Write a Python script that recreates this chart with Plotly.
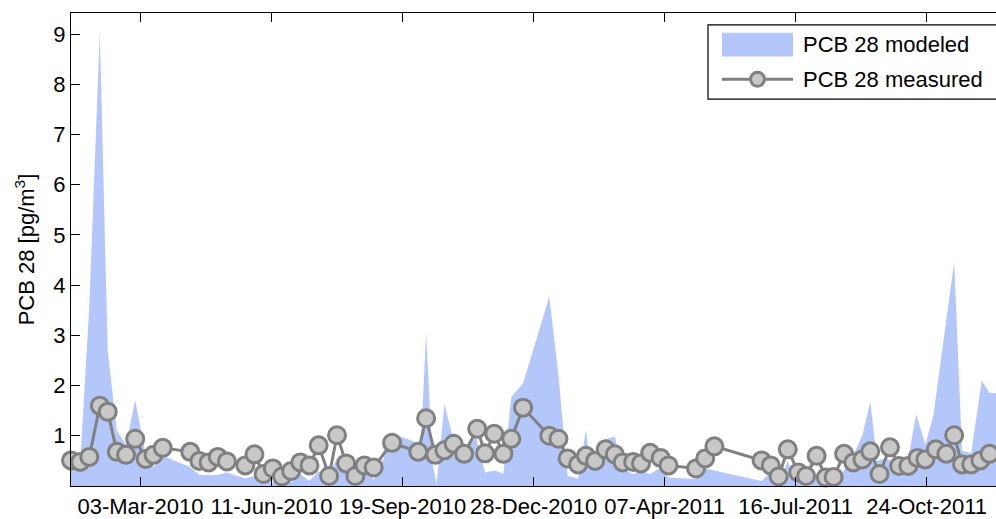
import plotly.graph_objects as go

# ---------------- data ----------------
modeled_dates = [
    "2010-01-09", "2010-01-16", "2010-01-23", "2010-01-31", "2010-02-06", "2010-02-13",
    "2010-02-20", "2010-02-27", "2010-03-07", "2010-03-13", "2010-03-20", "2010-03-29",
    "2010-04-10", "2010-04-17", "2010-04-24", "2010-05-01", "2010-05-08", "2010-05-22",
    "2010-05-29", "2010-06-05", "2010-06-12", "2010-06-19", "2010-06-26", "2010-07-03",
    "2010-07-10", "2010-07-17", "2010-07-24", "2010-07-31", "2010-08-07", "2010-08-14",
    "2010-08-21", "2010-08-28", "2010-09-11", "2010-09-17", "2010-09-30", "2010-10-03",
    "2010-10-07", "2010-10-12", "2010-10-15", "2010-10-21", "2010-10-28", "2010-11-05",
    "2010-11-13", "2010-11-21", "2010-11-28", "2010-12-05", "2010-12-11", "2010-12-20",
    "2011-01-09", "2011-01-16", "2011-01-23", "2011-01-31", "2011-02-06", "2011-02-09",
    "2011-02-16", "2011-02-20", "2011-02-28", "2011-03-06", "2011-03-14", "2011-03-20",
    "2011-03-27", "2011-04-04", "2011-04-10", "2011-05-01", "2011-05-08", "2011-06-20",
    "2011-06-27", "2011-07-03", "2011-07-10", "2011-07-15", "2011-07-21", "2011-07-27",
    "2011-08-01", "2011-08-10", "2011-08-20", "2011-08-30", "2011-09-05", "2011-09-11",
    "2011-09-16", "2011-09-23", "2011-10-01", "2011-10-10", "2011-10-16", "2011-10-23",
    "2011-10-29", "2011-10-31", "2011-11-14", "2011-11-20", "2011-11-27", "2011-12-05",
    "2011-12-11", "2011-12-18",
]
modeled_values = [
    0.43, 0.45, 3.6, 9.05, 2.7, 1.1,
    0.83, 1.71, 0.62, 0.38, 0.6, 0.5,
    0.38, 0.22, 0.22, 0.22, 0.27, 0.15,
    0.2, 0.15, 0.07, 0.17, 0.08, 0.24,
    0.1, 0.30, 0.15, 0.56, 0.45, 0.37,
    0.43, 0.12, 0.92, 0.99, 0.86, 0.83,
    3.05, 0.43, 0.04, 1.64, 0.89, 0.67,
    1.09, 0.27, 0.31, 0.25, 1.77, 2.04,
    3.77, 2.2, 0.2, 0.15, 1.12, 0.50,
    0.56, 0.92, 0.99, 0.33, 0.24, 0.30,
    0.24, 0.37, 0.17, 0.14, 0.35, 0.10,
    0.27, 0.07, 0.50, 0.14, 0.20, 0.45,
    0.10, 0.17, 0.24, 0.66, 1.02, 1.69,
    0.50, 0.56, 0.43, 0.56, 1.43, 0.83,
    1.38, 1.77, 4.46, 0.70, 0.65, 2.10,
    1.85, 1.85,
]

measured_dates = [
    "2010-01-09", "2010-01-16", "2010-01-23", "2010-01-31", "2010-02-06", "2010-02-13",
    "2010-02-20", "2010-02-27", "2010-03-07", "2010-03-13", "2010-03-20", "2010-04-10",
    "2010-04-17", "2010-04-24", "2010-05-01", "2010-05-08", "2010-05-22", "2010-05-29",
    "2010-06-05", "2010-06-12", "2010-06-19", "2010-06-26", "2010-07-03", "2010-07-10",
    "2010-07-17", "2010-07-25", "2010-07-31", "2010-08-07", "2010-08-14", "2010-08-21",
    "2010-08-28", "2010-09-11", "2010-10-01", "2010-10-07", "2010-10-14", "2010-10-21",
    "2010-10-28", "2010-11-05", "2010-11-15", "2010-11-21", "2010-11-28", "2010-12-05",
    "2010-12-11", "2010-12-20", "2011-01-09", "2011-01-16", "2011-01-23", "2011-01-31",
    "2011-02-06", "2011-02-13", "2011-02-21", "2011-02-28", "2011-03-06", "2011-03-14",
    "2011-03-20", "2011-03-27", "2011-04-04", "2011-04-10", "2011-05-01", "2011-05-08",
    "2011-05-15", "2011-06-20", "2011-06-27", "2011-07-03", "2011-07-10", "2011-07-18",
    "2011-07-24", "2011-08-01", "2011-08-08", "2011-08-14", "2011-08-22", "2011-08-29",
    "2011-09-05", "2011-09-11", "2011-09-18", "2011-09-26", "2011-10-03", "2011-10-10",
    "2011-10-17", "2011-10-23", "2011-10-31", "2011-11-08", "2011-11-14", "2011-11-20",
    "2011-11-27", "2011-12-04", "2011-12-11", "2011-12-18",
]
measured_values = [
    0.51, 0.48, 0.58, 1.60, 1.48, 0.68,
    0.62, 0.94, 0.54, 0.62, 0.76, 0.68,
    0.50, 0.47, 0.58, 0.49, 0.41, 0.63,
    0.24, 0.35, 0.19, 0.30, 0.47, 0.41,
    0.81, 0.20, 1.01, 0.45, 0.20, 0.41,
    0.37, 0.86, 0.68, 1.35, 0.62, 0.71,
    0.84, 0.64, 1.14, 0.65, 1.04, 0.64,
    0.94, 1.56, 1.00, 0.94, 0.55, 0.43,
    0.60, 0.50, 0.73, 0.63, 0.47, 0.48,
    0.45, 0.66, 0.56, 0.41, 0.35, 0.55,
    0.79, 0.51, 0.41, 0.19, 0.73, 0.27,
    0.20, 0.60, 0.17, 0.18, 0.64, 0.47,
    0.53, 0.69, 0.24, 0.77, 0.40, 0.40,
    0.56, 0.53, 0.73, 0.64, 1.01, 0.43,
    0.43, 0.51, 0.64, 0.70,
]

tick_dates = ["2010-03-03", "2010-06-11", "2010-09-19", "2010-12-28",
              "2011-04-07", "2011-07-16", "2011-10-24"]
tick_labels = ["03-Mar-2010", "11-Jun-2010", "19-Sep-2010", "28-Dec-2010",
               "07-Apr-2011", "16-Jul-2011", "24-Oct-2011"]
y_ticks = [1, 2, 3, 4, 5, 6, 7, 8, 9]

x_range = ["2010-01-09", "2011-12-15 22:00"]
y_range = [0, 9.42]

series_names = ["PCB 28 modeled", "PCB 28 measured"]

# ---------------- styles ----------------
FONT = "Liberation Sans, Arial, sans-serif"
AREA_COLOR = "#b3c7fb"
LINE_COLOR = "#808080"
MARKER_FILL = "#c8c8c8"

fig = go.Figure()

fig.add_trace(go.Scatter(
    x=modeled_dates, y=modeled_values, name=series_names[0],
    mode="lines", fill="tozeroy", fillcolor=AREA_COLOR,
    line=dict(width=0, color=AREA_COLOR), showlegend=False,
))

fig.add_trace(go.Scatter(
    x=measured_dates, y=measured_values, name=series_names[1],
    mode="lines+markers",
    line=dict(color=LINE_COLOR, width=3),
    marker=dict(size=17, color=MARKER_FILL, line=dict(color=LINE_COLOR, width=3)),
    cliponaxis=False, showlegend=False,
))

# ---------------- manual legend (box, swatches, labels) ----------------
L, T, B = 71, 13, 491
W, H = 996 - L, B - T


def px(xp):
    return (xp - L) / W


def py(yp):
    return (B - yp) / H


shapes = [
    dict(type="rect", xref="paper", yref="paper",
         x0=px(708), x1=px(1010), y0=py(100), y1=py(25),
         fillcolor="white", line=dict(color="black", width=1.2), layer="above"),
    dict(type="rect", xref="paper", yref="paper",
         x0=px(722), x1=px(793), y0=py(57), y1=py(33),
         fillcolor=AREA_COLOR, line=dict(width=0), layer="above"),
    dict(type="line", xref="paper", yref="paper",
         x0=px(722), x1=px(793), y0=py(80), y1=py(80),
         line=dict(color=LINE_COLOR, width=3), layer="above"),
    dict(type="circle", xref="paper", yref="paper",
         x0=px(757.5 - 7), x1=px(757.5 + 7), y0=py(80 + 7), y1=py(80 - 7),
         fillcolor=MARKER_FILL, line=dict(color=LINE_COLOR, width=3), layer="above"),
]

annotations = [
    dict(text=series_names[0], xref="paper", yref="paper", x=px(801), y=py(45),
         xanchor="left", yanchor="middle", showarrow=False,
         font=dict(family=FONT, size=22, color="black")),
    dict(text=series_names[1], xref="paper", yref="paper", x=px(801), y=py(80),
         xanchor="left", yanchor="middle", showarrow=False,
         font=dict(family=FONT, size=22, color="black")),
]

fig.update_layout(
    width=996, height=519,
    margin=dict(l=L, r=0, t=T, b=519 - B, pad=0),
    paper_bgcolor="white", plot_bgcolor="white",
    font=dict(family=FONT, size=22, color="black"),
    showlegend=False,
    shapes=shapes, annotations=annotations,
    xaxis=dict(
        type="date", range=x_range,
        tickvals=tick_dates, ticktext=tick_labels,
        ticks="inside", ticklen=9, tickwidth=1, tickcolor="black",
        showline=True, linecolor="black", linewidth=1.2, mirror="ticks",
        showgrid=False, zeroline=False,
        tickfont=dict(family=FONT, size=22, color="black"),
    ),
    yaxis=dict(
        range=y_range, tickvals=y_ticks,
        ticks="inside", ticklen=9, tickwidth=1, tickcolor="black",
        showline=True, linecolor="black", linewidth=1.2,
        showgrid=False, zeroline=False,
        tickfont=dict(family=FONT, size=22, color="black"),
        title=dict(text="PCB 28 [pg/m<sup>3</sup>]", standoff=12,
                   font=dict(family=FONT, size=22, color="black")),
    ),
)

fig.write_html("out.html")
